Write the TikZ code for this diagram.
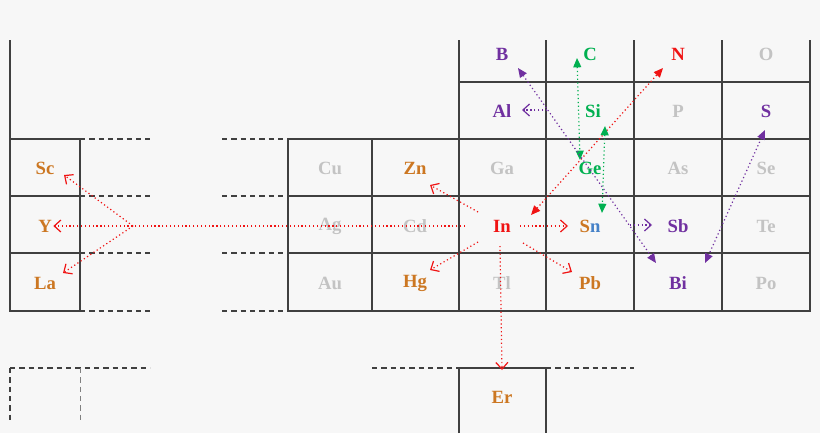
\documentclass[tikz,border=0pt]{standalone}
\usepackage{fontspec}
\setmainfont{Liberation Serif}
\usetikzlibrary{arrows.meta}
\definecolor{bg}{RGB}{247,247,247}
\definecolor{orn}{RGB}{204,119,34}
\definecolor{pur}{RGB}{112,48,160}
\definecolor{grn}{RGB}{0,176,80}
\definecolor{gry}{RGB}{195,195,195}
\definecolor{blu}{RGB}{70,130,200}
\definecolor{red1}{RGB}{240,20,20}
\begin{document}
\begin{tikzpicture}[x=0.75pt,y=-0.75pt,
 lbl/.style={font=\bfseries\fontsize{14}{14}\selectfont,inner sep=1pt},
 grid/.style={draw=black!75,line width=0.9pt},
 dsh/.style={draw=black!75,line width=0.8pt,dash pattern=on 4pt off 3pt},
 ra/.style={red1,dotted,line width=0.9pt,-{Straight Barb[length=5pt,width=9pt]}},
 rb/.style={red1,dotted,line width=0.9pt,{Triangle[length=7pt,width=6pt]}-{Triangle[length=7pt,width=6pt]}},
 ga/.style={grn,dotted,line width=0.9pt,{Triangle[length=7pt,width=6pt]}-{Triangle[length=7pt,width=6pt]}},
 pa/.style={pur,dotted,line width=0.9pt,{Triangle[length=7pt,width=6pt]}-{Triangle[length=7pt,width=6pt]}},
 po/.style={pur,dotted,line width=0.9pt,-{Straight Barb[length=5pt,width=9pt]}}]
\fill[bg] (0,0) rectangle (820,433);
\useasboundingbox (0,0) rectangle (820,433);
% left block
\draw[grid] (10,40) -- (10,311) -- (80,311) -- (80,139) -- (10,139);
\draw[grid] (10,196) -- (80,196) (10,253) -- (80,253);
\foreach \y in {139,196,253,311}{\draw[dsh] (80,\y) -- (150,\y); \draw[dsh] (222,\y) -- (288,\y);}
% main block
\draw[grid] (288,139) rectangle (810,311);
\draw[grid] (459,40) -- (459,311) (546,40) -- (546,311) (634,40) -- (634,311) (722,40) -- (722,311) (810,40) -- (810,139);
\draw[grid] (372,139) -- (372,311);
\draw[grid] (459,82) -- (810,82) (459,139) -- (810,139) (288,196) -- (810,196) (288,253) -- (810,253);
% bottom
\draw[dsh] (10,368) -- (150,368);
\draw[dsh] (10,368) -- (10,420);
\draw[draw=black!50,line width=0.7pt,dash pattern=on 4pt off 3pt] (80,368) -- (80,420);
\draw[dsh] (372,368) -- (459,368) (546,368) -- (634,368);
\draw[grid] (459,433) -- (459,368) -- (546,368) -- (546,433);
% labels
\node[lbl,text=orn] (Sc) at (45,168) {Sc};
\node[lbl,text=orn] (Y) at (45,226) {Y};
\node[lbl,text=orn] (La) at (45,283) {La};
\node[lbl,text=gry] (Cu) at (330,168) {Cu};
\node[lbl,text=orn] (Zn) at (415,168) {Zn};
\node[lbl,text=gry] (Ga) at (502,168) {Ga};
\node[lbl,text=grn] (Ge) at (590,168) {Ge};
\node[lbl,text=gry] (As) at (678,168) {As};
\node[lbl,text=gry] (Se) at (766,168) {Se};
\node[lbl,text=gry] (Ag) at (330,226) {Ag};
\node[lbl,text=gry] (Cd) at (415,226) {Cd};
\node[lbl,text=red1] (In) at (502,226) {In};
\node[lbl] (Sn) at (590,226) {\textcolor{orn}{S}\textcolor{blu}{n}};
\node[lbl,text=pur] (Sb) at (678,226) {Sb};
\node[lbl,text=gry] (Te) at (766,226) {Te};
\node[lbl,text=gry] (Au) at (330,283) {Au};
\node[lbl,text=orn] (Hg) at (415,283) {Hg};
\node[lbl,text=gry] (Tl) at (502,283) {Tl};
\node[lbl,text=orn] (Pb) at (590,283) {Pb};
\node[lbl,text=pur] (Bi) at (678,283) {Bi};
\node[lbl,text=gry] (Po) at (766,283) {Po};
\node[lbl,text=pur] (B) at (502,54) {B};
\node[lbl,text=grn] (C) at (590,54) {C};
\node[lbl,text=red1] (N) at (678,54) {N};
\node[lbl,text=gry] (O) at (766,54) {O};
\node[lbl,text=pur] (Al) at (502,111) {Al};
\node[lbl,text=grn] (Si) at (593,111) {Si};
\node[lbl,text=gry] (P) at (678,111) {P};
\node[lbl,text=pur] (S) at (766,111) {S};
\node[lbl,text=orn] (Er) at (502,397) {Er};
% coordinates
\coordinate (br) at (133,226);
\coordinate (inl) at (465,226);
\coordinate (Ert) at (502,370);
\coordinate (inb) at (500,246);
% red arrows
\draw[ra] (inl) -- (Y.east);
\draw[ra] (br) -- (64,175);
\draw[ra] (br) -- (63,273);
\draw[ra] (478,212) -- (430,185);
\draw[ra] (478,242) -- (430,270);
\draw[ra] (523,243) -- (572,272);
\draw[ra] (520,226) -- (568,226);
\draw[ra] (inb) -- (Ert);
\draw[rb] (531,215) -- (663,68);
% green
\draw[ga] (577,58) -- (580,160);
\draw[ga] (605,126) -- (602,213);
% purple
\draw[pa] (518,68) -- (656,263);
\draw[pa] (765,130) -- (705,263);
\draw[po] (547,110) -- (522,110);
\draw[po] (630,225) -- (652,225);
\end{tikzpicture}
\end{document}
